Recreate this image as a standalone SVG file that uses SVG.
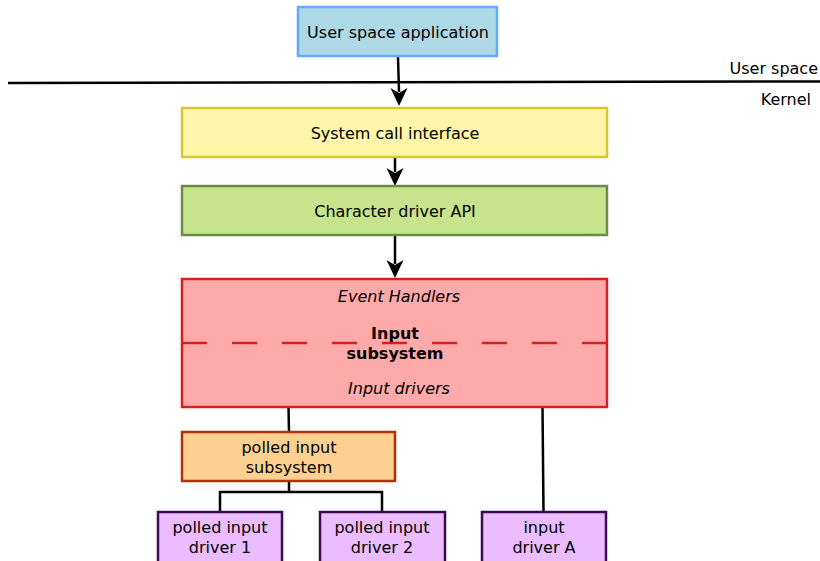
<svg xmlns="http://www.w3.org/2000/svg" width="820" height="561" viewBox="0 0 820 561">
<defs>
<style>
text{font-family:"DejaVu Sans",sans-serif;font-size:16px;fill:#000;text-anchor:middle}
.box{stroke-width:2.5}
.c{stroke:#000;stroke-width:2.5;fill:none}
.it{font-style:italic}
.b{font-weight:bold}
</style>
</defs>
<rect width="820" height="561" fill="#fff"/>
<g id="boundary">
<line x1="8" y1="83" x2="820" y2="81.5" stroke="#000" stroke-width="2.5"/>
<text x="818" y="74" style="text-anchor:end">User space</text>
<text x="811" y="105" style="text-anchor:end">Kernel</text>
</g>
<g id="connectors">
<line class="c" x1="398" y1="57" x2="399" y2="92"/>
<path d="M399,106 L390.5,88 L399,93 L407.5,88 Z" fill="#000"/>
<line class="c" x1="395" y1="158" x2="395" y2="172"/>
<path d="M395,186 L386.5,168 L395,173 L403.5,168 Z" fill="#000"/>
<line class="c" x1="395" y1="236" x2="395" y2="264"/>
<path d="M395,278 L386.5,260 L395,265 L403.5,260 Z" fill="#000"/>
<line class="c" x1="288.5" y1="407" x2="289" y2="432"/>
<path class="c" d="M289,482 V492 H220 V512 M289,492 H382 V512"/>
<line class="c" x1="542.5" y1="407" x2="543.5" y2="512"/>
</g>
<g id="user-app">
<rect class="box" x="298" y="7" width="199" height="49" fill="#add8e6" stroke="#66aaff"/>
<text x="398" y="37.5">User space application</text>
</g>
<g id="syscall">
<rect class="box" x="182" y="108" width="425" height="49" fill="#fff6a9" stroke="#d8c631"/>
<text x="395" y="138.5">System call interface</text>
</g>
<g id="chardrv">
<rect class="box" x="182" y="186" width="425" height="49" fill="#c6e48b" stroke="#6b8a4c"/>
<text x="395" y="216.5">Character driver API</text>
</g>
<g id="input-subsystem">
<rect class="box" x="182" y="279" width="425" height="128" fill="#ffaaaa" stroke="#d42020"/>
<line x1="182" y1="343" x2="607" y2="343" stroke="#d42020" stroke-width="2.5" stroke-dasharray="25,25"/>
<text class="it" x="399" y="301.5">Event Handlers</text>
<text class="b" x="395" y="338.5">Input</text>
<text class="b" x="395" y="358.5">subsystem</text>
<text class="it" x="399" y="393.5">Input drivers</text>
</g>
<g id="polled-subsystem">
<rect class="box" x="182" y="432" width="213" height="49" fill="#fdd08f" stroke="#b0310b"/>
<text x="289" y="452.5">polled input</text>
<text x="289" y="472.5">subsystem</text>
</g>
<g id="polled-driver-1">
<rect class="box" x="158" y="512" width="124" height="52" fill="#ebbcff" stroke="#3a0c4e"/>
<text x="220" y="532.5">polled input</text>
<text x="220" y="552.5">driver 1</text>
</g>
<g id="polled-driver-2">
<rect class="box" x="320" y="512" width="125" height="52" fill="#ebbcff" stroke="#3a0c4e"/>
<text x="382" y="532.5">polled input</text>
<text x="382" y="552.5">driver 2</text>
</g>
<g id="input-driver-a">
<rect class="box" x="482" y="512" width="124" height="52" fill="#ebbcff" stroke="#3a0c4e"/>
<text x="544" y="532.5">input</text>
<text x="544" y="552.5">driver A</text>
</g>
</svg>
